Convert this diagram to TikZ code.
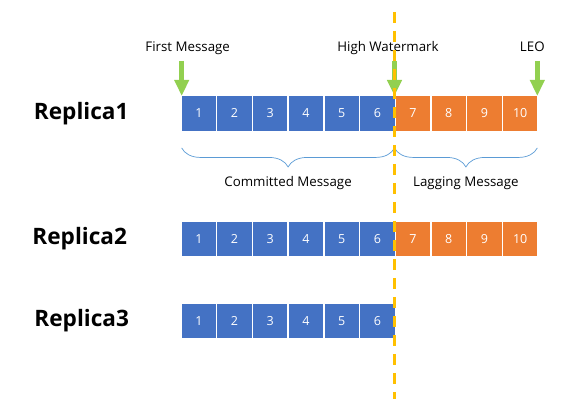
\documentclass[tikz,border=0pt]{standalone}
\usepackage{fontspec}
\setmainfont{Open Sans}
\usepackage{tikz}
\usetikzlibrary{positioning, calc, arrows.meta, decorations.pathreplacing}
\usepackage{xcolor}
\definecolor{msgblue}{HTML}{4472C4}
\definecolor{msgorange}{HTML}{ED7D31}
\definecolor{pointergreen}{HTML}{92D050}
\definecolor{markyellow}{HTML}{FFC000}
\definecolor{bracebl}{HTML}{5B9BD5}

\begin{document}
\begin{tikzpicture}[
    msg/.style={rectangle, inner sep=0, outer sep=0, minimum width=34.3pt, minimum height=34.7pt, text=white, font=\fontsize{12.5}{14}\selectfont},
    blue_msg/.style={msg, fill=msgblue},
    orange_msg/.style={msg, fill=msgorange},
    replica_label/.style={inner sep=0, font=\bfseries\fontsize{22.6}{26}\selectfont},
    pointer_label/.style={inner sep=0, font=\fontsize{13.3}{15}\selectfont},
    pointer_arrow/.style={draw=pointergreen, line width=5.5pt, -{Triangle[width=14pt, length=16pt]}, pointergreen},
    brace_line/.style={draw=bracebl, line width=0.7pt, decorate, decoration={brace, mirror, amplitude=19pt}},
    watermark/.style={draw=markyellow, line width=3pt, dash pattern=on 11pt off 8pt}]

    \useasboundingbox (0,0) rectangle (582pt,-409pt);

    % Replica1
    \node[blue_msg] (r1m1) at (198.85pt,-113.3pt) {1};
    \node[blue_msg, right=1.4pt of r1m1] (r1m2) {2};
    \node[blue_msg, right=1.4pt of r1m2] (r1m3) {3};
    \node[blue_msg, right=1.4pt of r1m3] (r1m4) {4};
    \node[blue_msg, right=1.4pt of r1m4] (r1m5) {5};
    \node[blue_msg, right=1.4pt of r1m5] (r1m6) {6};
    \node[orange_msg, right=1.4pt of r1m6] (r1m7) {7};
    \node[orange_msg, right=1.4pt of r1m7] (r1m8) {8};
    \node[orange_msg, right=1.4pt of r1m8] (r1m9) {9};
    \node[orange_msg, right=1.4pt of r1m9] (r1m10) {10};
    \node[replica_label, left=53pt of r1m1] (rep1) {Replica1};

    % Replica2
    \node[blue_msg, below=91pt of r1m1] (r2m1) {1};
    \node[blue_msg, right=1.4pt of r2m1] (r2m2) {2};
    \node[blue_msg, right=1.4pt of r2m2] (r2m3) {3};
    \node[blue_msg, right=1.4pt of r2m3] (r2m4) {4};
    \node[blue_msg, right=1.4pt of r2m4] (r2m5) {5};
    \node[blue_msg, right=1.4pt of r2m5] (r2m6) {6};
    \node[orange_msg, right=1.4pt of r2m6] (r2m7) {7};
    \node[orange_msg, right=1.4pt of r2m7] (r2m8) {8};
    \node[orange_msg, right=1.4pt of r2m8] (r2m9) {9};
    \node[orange_msg, right=1.4pt of r2m9] (r2m10) {10};
    \node[replica_label, left=54.5pt of r2m1] (rep2) {Replica2};

    % Replica3
    \node[blue_msg, below=47.3pt of r2m1] (r3m1) {1};
    \node[blue_msg, right=1.4pt of r3m1] (r3m2) {2};
    \node[blue_msg, right=1.4pt of r3m2] (r3m3) {3};
    \node[blue_msg, right=1.4pt of r3m3] (r3m4) {4};
    \node[blue_msg, right=1.4pt of r3m4] (r3m5) {5};
    \node[blue_msg, right=1.4pt of r3m5] (r3m6) {6};
    \node[replica_label, left=52.5pt of r3m1] (rep3) {Replica3};

    % Pointers
    \coordinate[above=35pt of r1m1.north west] (first_top);
    \coordinate[above=35pt of r1m6.north east] (hw_top);
    \coordinate[above=35pt of r1m10.north east] (leo_top);
    \draw[pointer_arrow] (first_top) -- (r1m1.north west);
    \draw[pointer_arrow] (hw_top) -- (r1m6.north east);
    \draw[pointer_arrow] (leo_top) -- (r1m10.north east);
    \node[pointer_label, above=9pt of first_top, anchor=base, xshift=6pt] (first_text) {First Message};
    \node[pointer_label, above=9pt of hw_top, anchor=base, xshift=-6.5pt] (hw_text) {High Watermark};
    \node[pointer_label, above=9pt of leo_top, anchor=base, xshift=-5pt] (leo_text) {LEO};

    % Braces
    \coordinate[below=17.3pt of r1m1.south west] (commit_start);
    \coordinate[below=17.3pt of r1m6.south east] (commit_end);
    \coordinate[below=17.3pt of r1m10.south east] (lag_end);
    \draw[brace_line] (commit_start) -- (commit_end) node[pos=0.5, yshift=-38.7pt, anchor=base, pointer_label, text=black] (commit_text) {Committed Message};
    \draw[brace_line] (commit_end) -- (lag_end) node[pos=0.5, yshift=-38.7pt, anchor=base, pointer_label, text=black] (lag_text) {Lagging Message};

    % High watermark line
    \coordinate[above=84pt of r1m6.north east] (wm_top);
    \coordinate[below=61pt of r3m6.south east] (wm_bottom);
    \draw[watermark] (wm_top) -- (wm_bottom);

\end{tikzpicture}
\end{document}
